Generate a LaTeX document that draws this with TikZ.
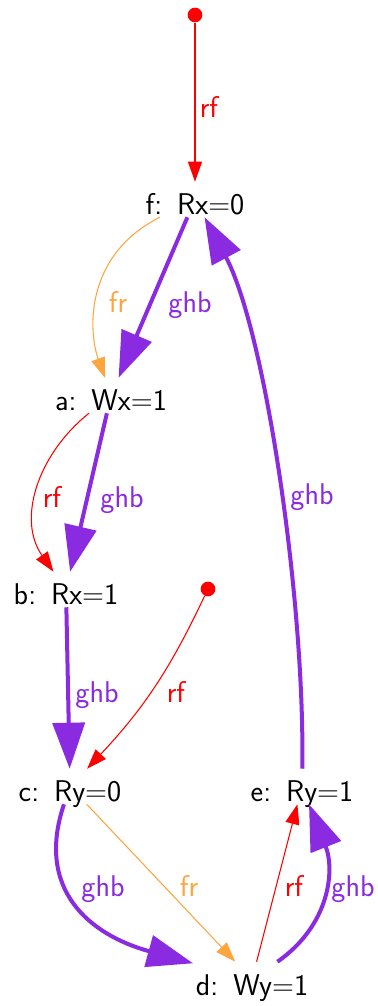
\documentclass[tikz,border=0pt]{standalone}
\usetikzlibrary{arrows.meta}
\definecolor{ghbcol}{RGB}{138,43,226}
\definecolor{frcol}{RGB}{255,165,64}
\tikzset{
  ev/.style={inner xsep=2pt, inner ysep=0pt, text height=24.75pt, text depth=1.5pt,
    font=\sffamily\fontsize{22.5pt}{25pt}\selectfont},
  lbl/.style={anchor=base, inner sep=0pt, font=\sffamily\fontsize{22.5pt}{25pt}\selectfont},
  initw/.style={circle, fill=red, inner sep=0pt, minimum size=11pt},
  rf/.style={red, line width=0.8pt, -{Triangle[length=15pt,width=10.5pt]}},
  fr/.style={frcol, line width=0.8pt, -{Triangle[length=15pt,width=10.5pt]}},
  ghb/.style={ghbcol, line width=3pt, -{Triangle[length=34.5pt,width=24pt]}},
}
\begin{document}
\begin{tikzpicture}[x=0.75pt,y=0.75pt]
    \useasboundingbox (0,0) rectangle (378,1006);
    % Eventos
    \node[ev] (f) at (195,806.5) {f:\enspace Rx=0};
    \node[ev] (a) at (111,610.5) {a:\enspace Wx=1};
    \node[ev] (b) at (66,416.5) {b:\enspace Rx=1};
    \node[ev] (c) at (70,219.5) {c:\enspace Ry=0};
    \node[ev] (e) at (302,219.5) {e:\enspace Ry=1};
    \node[ev] (d) at (252,26.5) {d:\enspace Wy=1};
    % Escrituras iniciales
    \node[initw] (ix) at (195,991) {};
    \node[initw] (iy) at (208,417) {};
    % rf
    \draw[rf] (ix) -- (f);
    \draw[rf] (a) .. controls (37,551) and (17,486) .. (b);
    \draw[rf] (iy) to[bend left=9] (c);
    \draw[rf] (d) -- (e);
    % fr
    \draw[fr] (f) .. controls (85,751) and (88,676) .. (a);
    \draw[fr] (c) -- (d);
    % ghb
    \draw[ghb] (f) -- (a);
    \draw[ghb] (a) -- (b);
    \draw[ghb] (b) -- (c);
    \draw[ghb] (c) .. controls (35,116) and (90,71) .. (d);
    \draw[ghb] (d) .. controls (330,81) and (335,136) .. (e);
    \draw[ghb] (e) .. controls (305,406) and (265,676) .. (f);
    % Etiquetas
    \node[lbl, red] (lrfxf) at (209,888) {rf};
    \node[lbl, frcol] (lfrfa) at (118,693) {fr};
    \node[lbl, ghbcol] (lghbfa) at (190,693) {ghb};
    \node[lbl, red] (lrfab) at (52,498) {rf};
    \node[lbl, ghbcol] (lghbab) at (122,498) {ghb};
    \node[lbl, ghbcol] (lghbbc) at (97,303) {ghb};
    \node[lbl, red] (lrfyc) at (176,303) {rf};
    \node[lbl, ghbcol] (lghbef) at (312,501) {ghb};
    \node[lbl, ghbcol] (lghbcd) at (103,109) {ghb};
    \node[lbl, frcol] (lfrcd) at (189,109) {fr};
    \node[lbl, red] (lrfde) at (294,109) {rf};
    \node[lbl, ghbcol] (lghbde) at (353,109) {ghb};
\end{tikzpicture}
\end{document}
